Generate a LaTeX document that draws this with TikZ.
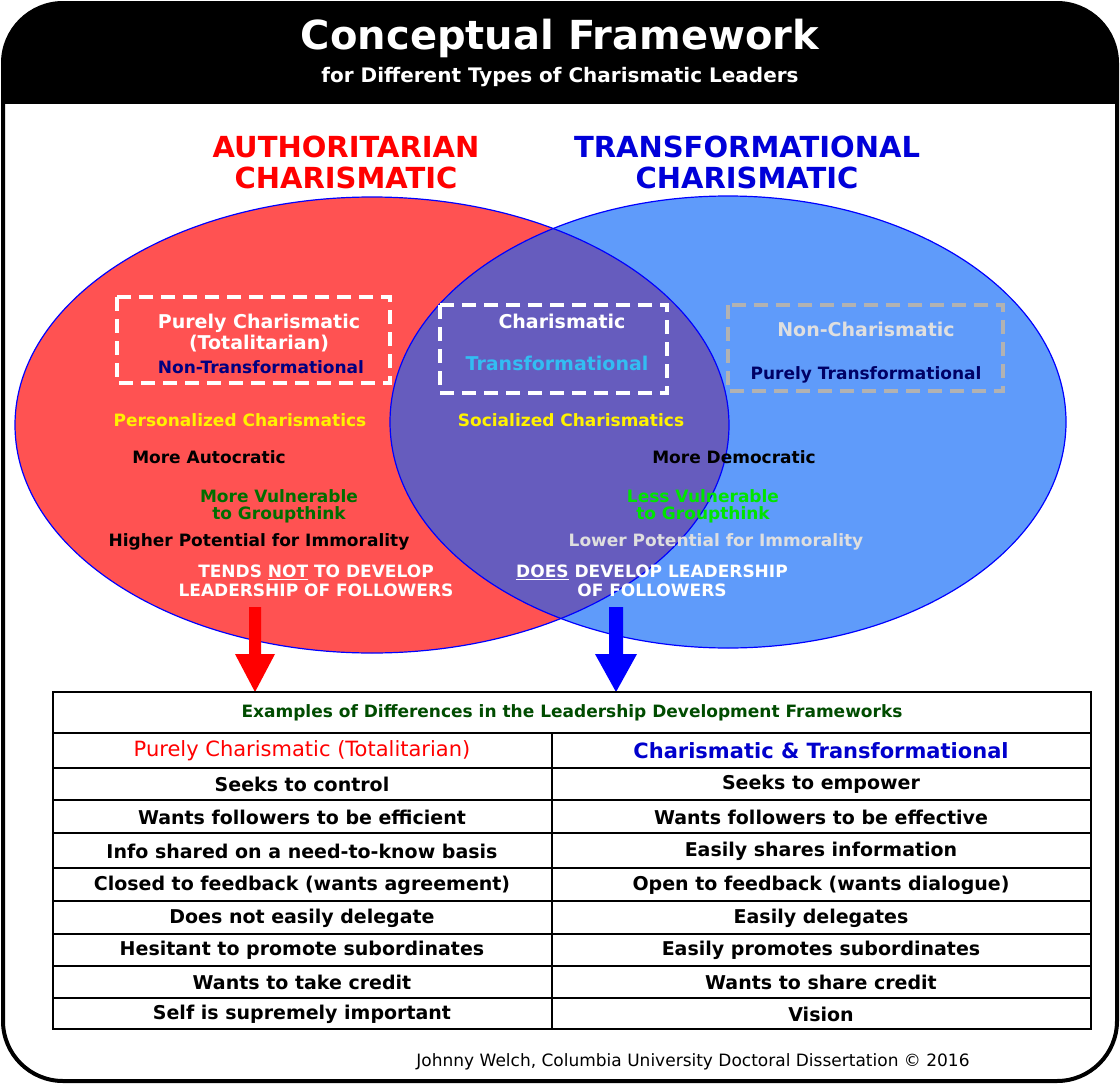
\documentclass[tikz,border=0pt]{standalone}
\usepackage{fontspec}
\setmainfont{DejaVu Sans}
\begin{document}
\begin{tikzpicture}[x=1pt,y=-1pt,
  t/.style={font=\bfseries\fontsize{#1}{#1}\selectfont,inner sep=0pt,align=center},
  t/.default=18,
  db/.style={draw=white,line width=4.5pt,dash pattern=on 14pt off 8pt},
  cell/.style={font=\bfseries\fontsize{19}{19}\selectfont,inner sep=0pt}]
\useasboundingbox (0,0) rectangle (1120,1084);
\definecolor{red1}{RGB}{255,82,82}
\definecolor{blue1}{RGB}{95,155,250}
\definecolor{purp}{RGB}{102,92,190}
\definecolor{dkgreen}{RGB}{0,110,0}
% frame
\begin{scope}
\clip[rounded corners=60pt] (3,3) rectangle (1117,1081);
\fill[black] (0,0) rectangle (1120,104);
\end{scope}
\draw[line width=4pt,rounded corners=60pt] (3,3) rectangle (1117,1081);
\node[t=40,text=white] (title) at (560,38) {Conceptual Framework};
\node[t=20,text=white] (sub) at (560,77) {for Different Types of Charismatic Leaders};
% ellipses
\fill[red1] (372,425) ellipse [x radius=357,y radius=228];
\fill[blue1] (728,422) ellipse [x radius=338,y radius=226];
\begin{scope}
\clip (372,425) ellipse [x radius=357,y radius=228];
\fill[purp] (728,422) ellipse [x radius=338,y radius=226];
\end{scope}
\draw[blue,line width=1.2pt] (372,425) ellipse [x radius=357,y radius=228];
\draw[blue,line width=1.2pt] (728,422) ellipse [x radius=338,y radius=226];
\node[t=29,text=red] (auth) at (346,162) {AUTHORITARIAN\\[2pt]CHARISMATIC};
\node[t=29,text=blue!85!black] (trans) at (747,162) {TRANSFORMATIONAL\\[2pt]CHARISMATIC};
% dashed boxes
\draw[db] (117,297) rectangle (390,383);
\draw[db] (440,305) rectangle (667,393);
\draw[db,draw=gray!60] (728,305) rectangle (1003,391);
\node[t=19,text=white] (pc) at (259,333) {Purely Charismatic\\[2pt](Totalitarian)};
\node[t=17,text=blue!50!black] (nt) at (261,367) {Non-Transformational};
\node[t=19,text=white] (ch) at (562,321) {Charismatic};
\node[t=19,text=cyan!80!white] (tr) at (557,363) {Transformational};
\node[t=19,text=gray!25] (nc) at (866,329) {Non-Charismatic};
\node[t=17,text=blue!40!black] (pt) at (866,375) {Purely Transformational};
\node[t=17,text=yellow] (pers) at (240,420) {Personalized Charismatics};
\node[t=17,text=yellow] (soc) at (571,420) {Socialized Charismatics};
\node[t=17] (aut) at (209,457) {More Autocratic};
\node[t=17] (dem) at (734,457) {More Democratic};
\node[t=17,text=dkgreen] (mv) at (279,506) {More Vulnerable\\to Groupthink};
\node[t=17,text=green!90!black] (lv) at (703,506) {Less Vulnerable\\to Groupthink};
\node[t=17] (hp) at (259,542) {Higher Potential for Immorality};
\node[t=17,text=gray!25] (lp) at (716,542) {Lower Potential for Immorality};
\node[t=17,text=white] (tn) at (316,581) {TENDS \underline{NOT} TO DEVELOP\\[2pt]LEADERSHIP OF FOLLOWERS};
\node[t=17,text=white] (dd) at (652,581) {\underline{DOES} DEVELOP LEADERSHIP\\[2pt]OF FOLLOWERS};
% arrows
\coordinate (ra) at (255,607); \coordinate (rb) at (255,692);
\coordinate (ba) at (616,607); \coordinate (bb) at (616,692);
\fill[red] (249,607) -- (261,607) -- (261,654) -- (275,654) -- (255,692) -- (235,654) -- (249,654) -- cycle;
\fill[blue] (609,607) -- (623,607) -- (623,654) -- (637,654) -- (616,692) -- (595,654) -- (609,654) -- cycle;
% table
\draw[line width=1.5pt,fill=white] (53,692) rectangle (1091,1029);
\foreach \y in {733,768,800,833,868,901,934,966,998} \draw[line width=1.5pt] (53,\y) -- (1091,\y);
\draw[line width=1.5pt] (552,733) -- (552,1029);
\node[t=17,text=green!30!black] (th) at (572,713) {Examples of Differences in the Leadership Development Frameworks};
\node[t=21,text=red,font=\fontsize{21}{21}\selectfont] (l0) at (302,751) {Purely Charismatic (Totalitarian)};
\node[t=21,text=blue!80!black,font=\bfseries\fontsize{21}{21}\selectfont] (r0) at (821,751) {Charismatic \& Transformational};
\foreach \y/\a/\b in {784/Seeks to control/Seeks to empower,
 817/Wants followers to be efficient/Wants followers to be effective,
 851/Info shared on a need-to-know basis/Easily shares information,
 885/Closed to feedback (wants agreement)/Open to feedback (wants dialogue),
 918/Does not easily delegate/Easily delegates,
 950/Hesitant to promote subordinates/Easily promotes subordinates,
 982/Wants to take credit/Wants to share credit,
 1014/Self is supremely important/Vision/Mission is supremely important}{
 \node[cell] at (302,\y) {\a};
 \node[cell] at (821,\y) {\b};}
\node[font=\fontsize{17}{17}\selectfont,inner sep=0pt] (cr) at (693,1062) {Johnny Welch, Columbia University Doctoral Dissertation \textcopyright{} 2016};
\end{tikzpicture}
\end{document}
